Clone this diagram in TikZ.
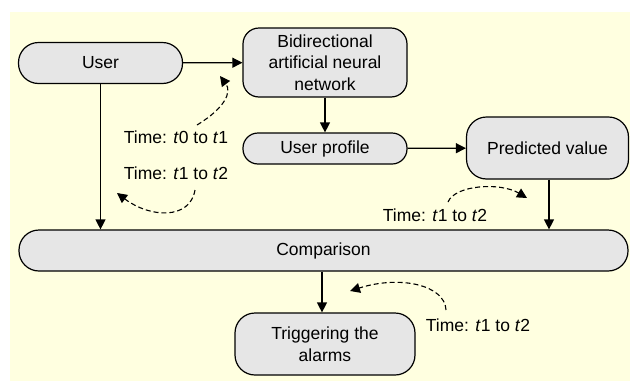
\documentclass[tikz,border=0pt]{standalone}
\usepackage{fontspec}
\setmainfont{Liberation Sans}
\usetikzlibrary{arrows.meta}
\definecolor{bgyellow}{RGB}{255,255,224}
\definecolor{boxgray}{RGB}{230,230,230}
\begin{document}
\begin{tikzpicture}[x=1pt, y=-1pt, font=\fontsize{17.5}{21.5}\selectfont,
    box/.style={draw, fill=boxgray, line width=1.2pt, inner sep=0pt, align=center},
    flow/.style={line width=1.2pt, -{Triangle[length=10pt, width=10pt]}},
    timearrow/.style={line width=1.1pt, dash pattern=on 5pt off 3pt, -{Triangle[length=10pt, width=10pt]}}]
    \useasboundingbox (0,0) rectangle (630,381);
    \fill[bgyellow] (10,12) rectangle (630,381);
    % boxes
    \node[box, rounded corners=20pt, minimum width=164pt, minimum height=41pt] (user) at (100.5,63) {User};
    \node[box, rounded corners=16pt, minimum width=164pt, minimum height=69pt] (bann) at (325,62.5) {Bidirectional\\artificial neural\\network};
    \node[box, rounded corners=15pt, minimum width=164pt, minimum height=31pt] (profile) at (325,148.5) {User profile};
    \node[box, rounded corners=20pt, minimum width=162pt, minimum height=62pt] (pred) at (547.5,148) {Predicted value};
    \node[box, rounded corners=20pt, minimum width=609pt, minimum height=41pt] (comp) at (323.5,250.5) {Comparison};
    \node[box, rounded corners=20pt, minimum width=180pt, minimum height=62pt] (alarm) at (325,344) {Triggering the\\alarms};
    % connectors
    \draw[flow] (user) -- (bann);
    \draw[flow] (bann) -- (profile);
    \draw[flow] (profile) -- (pred);
    \draw[flow] (user.south) -- (user.south |- comp.north);
    \draw[flow] (pred.south -| 549,0) -- (comp.north -| 549,0);
    \draw[flow] (comp.south -| 322,0) -- (alarm.north -| 322,0);
    % time labels
    \node (t01) at (176,137) {Time: \textit{t}0 to \textit{t}1};
    \node (t12a) at (176,173) {Time: \textit{t}1 to \textit{t}2};
    \node (t12b) at (435,215) {Time: \textit{t}1 to \textit{t}2};
    \node (t12c) at (478,325) {Time: \textit{t}1 to \textit{t}2};
    \draw[timearrow] (197,125) .. controls (225,108) and (232,92) .. (220,76);
    \draw[timearrow] (195,190) .. controls (190,220) and (150,218) .. (117,193);
    \draw[timearrow] (448,202) .. controls (455,185) and (500,182) .. (527,198);
    \draw[timearrow] (446,310) .. controls (445,285) and (400,275) .. (350,291);
\end{tikzpicture}
\end{document}
